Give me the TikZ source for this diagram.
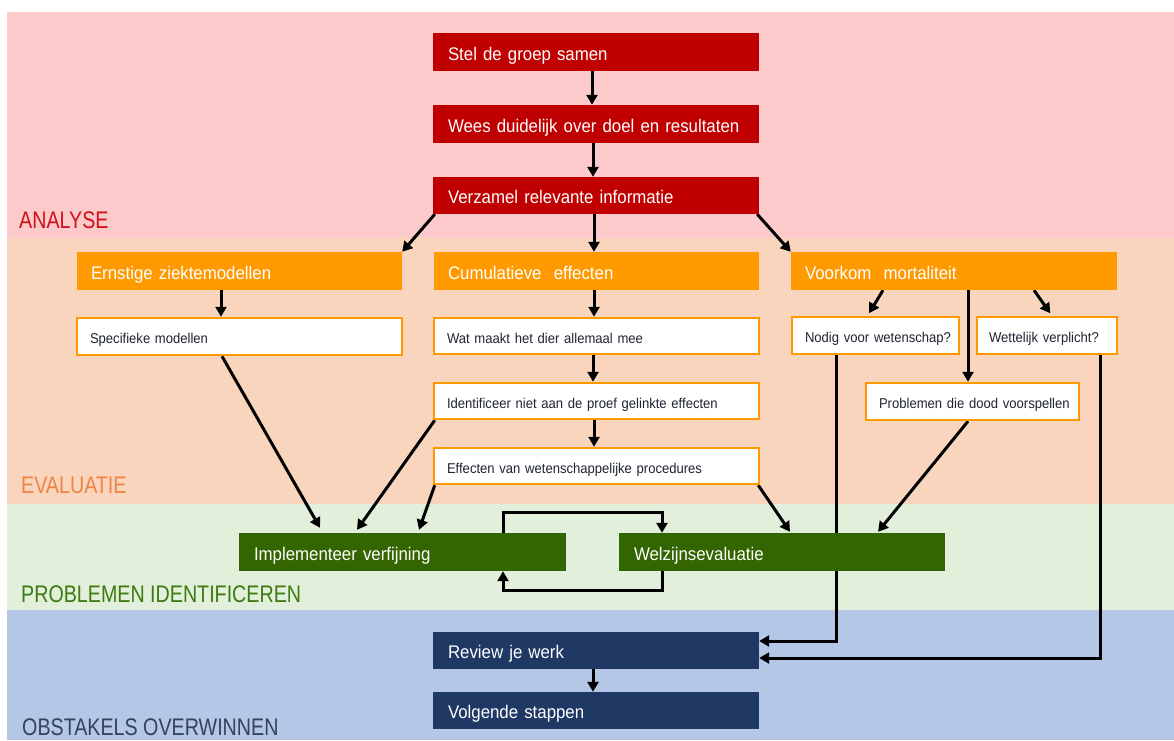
\documentclass[tikz,border=0pt]{standalone}
\usepackage{fontspec}
\setmainfont{Liberation Sans}[FakeStretch=0.92]
\newfontfamily\secfont{Liberation Sans}[FakeStretch=0.82]
\usetikzlibrary{arrows.meta,calc}
\definecolor{bgpink}{HTML}{FCCACA}
\definecolor{bgpeach}{HTML}{F8D5BC}
\definecolor{bggreen}{HTML}{E2EFDA}
\definecolor{bgblue}{HTML}{B4C7E7}
\definecolor{cred}{HTML}{C00000}
\definecolor{corange}{HTML}{FF9900}
\definecolor{cgreen}{HTML}{336600}
\definecolor{cnavy}{HTML}{203864}
\definecolor{txtdark}{HTML}{1F2333}
\definecolor{lblred}{HTML}{D0101A}
\definecolor{lblorange}{HTML}{EE8445}
\definecolor{lblgreen}{HTML}{3E7A12}
\definecolor{lblblue}{HTML}{34425A}
\pgfdeclarelayer{bg}
\pgfdeclarelayer{lines}
\pgfsetlayers{bg,lines,main}
\tikzset{
  box/.style={rectangle, inner xsep=0pt, inner ysep=0pt, align=left, anchor=center},
  bigtext/.style={font=\fontsize{18.3}{20}\selectfont, text=white, text height=16pt, text depth=0pt},
  redbox/.style={box, bigtext, fill=cred},
  orangebox/.style={box, bigtext, fill=corange},
  greenbox/.style={box, bigtext, fill=cgreen},
  navybox/.style={box, bigtext, fill=cnavy},
  whitebox/.style={box, fill=white, draw=corange, line width=2.5pt, font=\fontsize{14.2}{16}\selectfont, text=txtdark, text height=14.2pt, text depth=0pt},
  arr/.style={line width=3pt, -{Triangle[length=10pt,width=11pt]}},
  seclabel/.style={anchor=base west, inner sep=0pt, font=\secfont\fontsize{24}{26}\selectfont},
}
\begin{document}
\begin{tikzpicture}[x=1pt,y=-1pt]
\useasboundingbox (0,0) rectangle (1174,740);
\begin{pgfonlayer}{bg}
\fill[white] (0,0) rectangle (1174,740);
\fill[bgpink] (7,12) rectangle (1174,238);
\fill[bgpeach] (7,238) rectangle (1174,504);
\fill[bggreen] (7,504) rectangle (1174,610);
\fill[bgblue] (7,610) rectangle (1174,740);
\end{pgfonlayer}

% section labels
\node[seclabel, text=lblred] (lanalyse) at (19,228) {ANALYSE};
\node[seclabel, text=lblorange] (levaluatie) at (21,493) {EVALUATIE};
\node[seclabel, text=lblgreen] (lproblemen) at (21,602) {PROBLEMEN IDENTIFICEREN};
\node[seclabel, text=lblblue] (lobstakels) at (22,735) {OBSTAKELS OVERWINNEN};

% top boxes
\node[redbox, minimum width=326, minimum height=38, text width=296] (stel) at (596,52) {\mbox{Stel de groep samen}};
\node[redbox, minimum width=326, minimum height=38, text width=296] (wees) at (596,124) {\mbox{Wees duidelijk over doel en resultaten}};
\node[redbox, minimum width=326, minimum height=37, text width=296] (verz) at (596,195.5) {\mbox{Verzamel relevante informatie}};

% orange boxes
\node[orangebox, minimum width=325, minimum height=38, text width=297] (ernst) at (239.5,271) {\mbox{Ernstige ziektemodellen}};
\node[orangebox, minimum width=325, minimum height=38, text width=297] (cumul) at (596.5,271) {\mbox{Cumulatieve\ \ effecten}};
\node[orangebox, minimum width=326, minimum height=38, text width=298] (voork) at (954,271) {\mbox{Voorkom\ \ mortaliteit}};

% white boxes
\node[whitebox, minimum width=325, minimum height=37, text width=299] (spec) at (239.5,336.5) {\mbox{Specifieke modellen}};
\node[whitebox, minimum width=325, minimum height=36, text width=299] (wat) at (596.5,336) {\mbox{Wat maakt het dier allemaal mee}};
\node[whitebox, minimum width=325, minimum height=36, text width=299] (ident) at (596.5,401) {\mbox{Identificeer niet aan de proef gelinkte effecten}};
\node[whitebox, minimum width=325, minimum height=36, text width=299] (effect) at (596.5,466) {\mbox{Effecten van wetenschappelijke procedures}};
\node[whitebox, minimum width=167, minimum height=37, text width=141] (nodig) at (875.5,335.5) {\mbox{Nodig voor wetenschap?}};
\node[whitebox, minimum width=140, minimum height=37, text width=116] (wett) at (1047,335.5) {\mbox{Wettelijk verplicht?}};
\node[whitebox, minimum width=213, minimum height=37, text width=187] (probl) at (972.5,401.5) {\mbox{Problemen die dood voorspellen}};

% green boxes
\node[greenbox, minimum width=327, minimum height=38, text width=297] (impl) at (402.5,552) {\mbox{Implementeer verfijning}};
\node[greenbox, minimum width=326, minimum height=38, text width=296] (welz) at (782,552) {\mbox{Welzijnsevaluatie}};

% navy boxes
\node[navybox, minimum width=326, minimum height=37, text width=296] (review) at (596,650.5) {\mbox{Review je werk}};
\node[navybox, minimum width=326, minimum height=37, text width=296] (volg) at (596,710.5) {\mbox{Volgende stappen}};

\begin{pgfonlayer}{lines}
\draw[arr] ([xshift=-4pt]stel.south) -- ([xshift=-4pt]wees.north);
\draw[arr] ([xshift=-3pt]wees.south) -- ([xshift=-3pt]verz.north);
\draw[arr] ([xshift=-2pt]verz.south) -- ([xshift=-2.5pt]cumul.north);
\draw[arr] ([xshift=2pt]verz.south west) -- (ernst.north east);
\draw[arr] ([xshift=-2pt]verz.south east) -- (voork.north west);

\draw[arr] ([xshift=-18.5pt]ernst.south) -- ([xshift=-18.5pt]spec.north);
\draw[arr] ([xshift=-2.5pt]cumul.south) -- ([xshift=-2.5pt]wat.north);
\draw[arr] ([xshift=-3.5pt]wat.south) -- ([xshift=-3.5pt]ident.north);
\draw[arr] ([xshift=-2.5pt]ident.south) -- ([xshift=-2.5pt]effect.north);

\draw[arr, shorten >=3pt] ([xshift=-71pt]voork.south) -- ([xshift=-8pt]nodig.north);
\draw[arr, shorten >=3pt] ([xshift=80pt]voork.south) -- ([xshift=5pt]wett.north);
\draw[arr] ([xshift=14pt]voork.south) -- ([xshift=-4.5pt]probl.north);

\draw[arr] ([xshift=-17.5pt]spec.south) -- ([xshift=-82.5pt,yshift=5pt]impl.north);
\draw[arr] ([xshift=2pt]ident.south west) -- ([xshift=-45.5pt,yshift=3pt]impl.north);
\draw[arr] ([xshift=2pt]effect.south west) -- ([xshift=16.5pt,yshift=3pt]impl.north);
\draw[arr] ([xshift=-2pt]effect.south east) -- ([xshift=8pt,yshift=1pt]welz.north);
\draw[arr] ([xshift=-4.5pt]probl.south) -- ([xshift=96pt,yshift=1pt]welz.north);

\draw[arr] ([xshift=-39.5pt]nodig.south) |- ([yshift=9.5pt]review.east);
\draw[arr] ([xshift=53pt]wett.south) |- ([yshift=-7.5pt]review.east);

\draw[arr] ([xshift=100.5pt]impl.north) -- ++(0,-20) -| ([xshift=-120pt]welz.north);
\draw[arr] ([xshift=-120pt]welz.south) -- ++(0,19) -| ([xshift=100.5pt]impl.south);

\draw[arr] ([xshift=-3pt]review.south) -- ([xshift=-3pt]volg.north);
\end{pgfonlayer}
\end{tikzpicture}
\end{document}
